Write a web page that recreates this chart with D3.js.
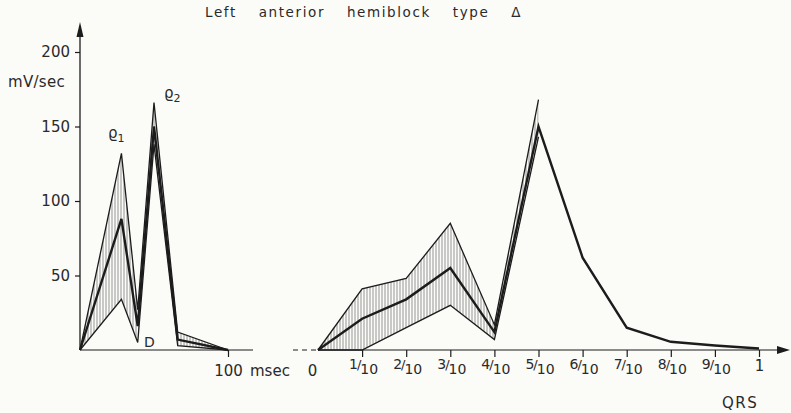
<!DOCTYPE html>
<html>
<head>
<meta charset="utf-8">
<script src="https://cdn.jsdelivr.net/npm/d3@7"></script>
<style>
  body { margin: 0; background: #fbfbf8; }
  svg { display: block; }
  text { font-family: "DejaVu Sans", sans-serif; fill: #2a2a2a; }
</style>
</head>
<body>
<svg id="chart" width="791" height="413"></svg>
<script>
// left panel: time in msec
let leftMs = [0, 28, 39, 50, 66, 100];
let leftUpper = [0, 132, 27, 166, 12, 0];
let leftMean = [0, 88, 16, 150, 7, 0];
let leftLower = [0, 34, 5, 138, 3, 0];

// right panel: fraction of QRS
let qrsFrac = [0, 0.1, 0.2, 0.3, 0.4, 0.5, 0.6, 0.7, 0.8, 0.9, 1];
let qrsLabels = ["0", "1/10", "2/10", "3/10", "4/10", "5/10", "6/10", "7/10", "8/10", "9/10", "1"];
let rightUpper = [0, 41, 48, 85, 17, 168];
let rightMean = [0, 21, 34, 55, 12, 150, 62, 15, 5.5, 3, 1];
let rightLower = [0, 0, 15, 30, 7, 143];

let yTicks = [50, 100, 150, 200];

let svg = d3.select("#chart");
let ink = "#1c1c1c";

let y = d3.scaleLinear().domain([0, 200]).range([350, 52]);
let xL = d3.scaleLinear().domain([0, 100]).range([80, 228]);
let xR = d3.scaleLinear().domain([0, 1]).range([318, 759]);

// hatching
let defs = svg.append("defs");
defs.append("pattern")
    .attr("id", "hatch")
    .attr("patternUnits", "userSpaceOnUse")
    .attr("width", 3)
    .attr("height", 10)
    .append("line")
    .attr("x1", 1).attr("x2", 1)
    .attr("y1", 0).attr("y2", 10)
    .attr("stroke", "#6a6a6a")
    .attr("stroke-width", 0.7);

// title
svg.append("text")
   .attr("x", 205)
   .attr("y", 17)
   .style("font-size", "13.5px")
   .style("letter-spacing", "1.6px")
   .style("word-spacing", "16px")
   .text("Left anterior hemiblock type \u0394");

// y axis
let yAxis = svg.append("g")
   .attr("transform", "translate(80,0)")
   .call(d3.axisLeft(y).tickValues(yTicks).tickSize(5).tickPadding(5));
yAxis.select(".domain").remove();
yAxis.selectAll("line").attr("stroke", ink).attr("stroke-width", 1.2);
yAxis.selectAll("text").style("font-size", "15px").attr("fill", "#2a2a2a");

svg.append("line")
   .attr("x1", 80).attr("x2", 80)
   .attr("y1", y(0)).attr("y2", 32)
   .attr("stroke", ink).attr("stroke-width", 1.3);
svg.append("path")
   .attr("d", "M80,22 L76.5,37 L83.5,37 Z")
   .attr("fill", ink);

svg.append("text")
   .attr("x", 8).attr("y", 87)
   .style("font-size", "15px")
   .style("letter-spacing", "0.3px")
   .text("mV/sec");

// left x axis
let xAxisL = svg.append("g")
   .attr("transform", `translate(0,${y(0)})`)
   .call(d3.axisBottom(xL).tickValues([100]).tickSize(7).tickPadding(8));
xAxisL.select(".domain").remove();
xAxisL.selectAll("line").attr("stroke", ink).attr("stroke-width", 1.2);
xAxisL.selectAll("text").style("font-size", "15px").attr("fill", "#2a2a2a");
svg.append("line")
   .attr("x1", 80).attr("x2", 253)
   .attr("y1", y(0)).attr("y2", y(0))
   .attr("stroke", ink).attr("stroke-width", 1.2);
svg.append("text")
   .attr("x", 250).attr("y", 376)
   .style("font-size", "15px")
   .text("msec");

// right x axis
let xAxisR = svg.append("g")
   .attr("transform", `translate(0,${y(0)})`)
   .call(d3.axisBottom(xR).tickValues(qrsFrac).tickSize(7).tickPadding(8).tickFormat(""));
xAxisR.select(".domain").remove();
xAxisR.selectAll("line").attr("stroke", ink).attr("stroke-width", 1.2)
      .filter(d => d == 0).remove();

xAxisR.selectAll(".tick").each(function(d, i) {
    let lab = qrsLabels[i];
    let t = d3.select(this).select("text")
              .attr("y", 21)
              .attr("dy", null)
              .style("font-size", "15px");
    if (lab.indexOf("/") < 0) {
        t.text(lab).attr("x", d == 0 ? -6 : 0);
        if (d == 0) t.attr("y", 26);
        return;
    }
    let parts = lab.split("/");
    t.attr("x", 1);
    t.append("tspan").text(parts[0]).attr("dy", -2).style("font-size", "14px");
    t.append("tspan").text("/").attr("dy", 0).attr("dx", -1).style("font-size", "13px");
    t.append("tspan").text(parts[1]).attr("dy", 5).attr("dx", -1).style("font-size", "14px");
});

svg.append("line")
   .attr("x1", 293).attr("x2", 318)
   .attr("y1", y(0)).attr("y2", y(0))
   .attr("stroke", ink).attr("stroke-width", 1)
   .attr("stroke-dasharray", "5,4");
svg.append("line")
   .attr("x1", 318).attr("x2", 782)
   .attr("y1", y(0)).attr("y2", y(0))
   .attr("stroke", ink).attr("stroke-width", 1.2);
svg.append("path")
   .attr("d", `M790,${y(0)} L777,${y(0) - 4} L777,${y(0) + 4} Z`)
   .attr("fill", ink);

svg.append("text")
   .attr("x", 722).attr("y", 408)
   .style("font-size", "15px")
   .style("letter-spacing", "1.5px")
   .text("QRS");

// bands and curves
function drawPanel(xs, upper, mean, lower, x) {
    let band = xs.slice(0, upper.length).map((v, i) => ({x: v, hi: upper[i], lo: lower[i]}));
    let area = d3.area()
                 .x(d => x(d.x))
                 .y0(d => y(d.lo))
                 .y1(d => y(d.hi));
    svg.append("path")
       .datum(band)
       .attr("d", area)
       .attr("fill", "url(#hatch)");

    let line = d3.line()
                 .x(d => x(d[0]))
                 .y(d => y(d[1]));
    [upper, lower].forEach(function(s) {
        svg.append("path")
           .datum(s.map((v, i) => [xs[i], v]))
           .attr("d", line)
           .attr("fill", "none")
           .attr("stroke", ink)
           .attr("stroke-width", 1.3)
           .attr("stroke-linejoin", "miter");
    });
    svg.append("path")
       .datum(mean.map((v, i) => [xs[i], v]))
       .attr("d", line)
       .attr("fill", "none")
       .attr("stroke", ink)
       .attr("stroke-width", 2.4)
       .attr("stroke-linejoin", "miter");
}

drawPanel(leftMs, leftUpper, leftMean, leftLower, xL);
drawPanel(qrsFrac, rightUpper, rightMean, rightLower, xR);

// peak labels
function rho(xp, yp, sub) {
    let t = svg.append("text")
               .attr("x", xp).attr("y", yp)
               .style("font-size", "15px");
    t.append("tspan").text("\u03F1");
    t.append("tspan").text(sub).attr("dy", 4).style("font-size", "11px");
}
rho(108, 138, "1");
rho(164, 98, "2");

svg.append("text")
   .attr("x", 144).attr("y", 347)
   .style("font-size", "14px")
   .text("D");
</script>
</body>
</html>
